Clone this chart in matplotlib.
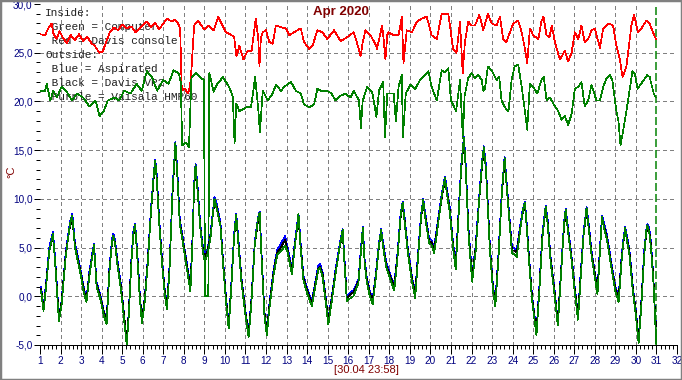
import matplotlib
matplotlib.use("Agg")
import matplotlib.pyplot as plt
from matplotlib.ticker import MultipleLocator, FuncFormatter, FixedLocator
from matplotlib.patches import Rectangle

plt.rcParams['lines.scale_dashes'] = False

# ---------------- data ----------------
day_labels = list(range(1, 33))
grid_days = list(range(2, 31))
grid_temps = [0, 5, 10, 15, 20, 25]
now_day = 31

# Inside: Red = Davis console
red_t = [1.00,1.25,1.40,1.57,1.65,1.80,1.95,2.10,2.30,2.50,
         2.70,2.90,3.10,3.30,3.50,3.70,3.88,4.05,4.20,4.40,
         4.60,4.80,5.00,5.20,5.45,5.65,5.85,6.20,6.40,6.60,
         6.80,7.00,7.20,7.40,7.55,7.72,7.82,7.90,8.05,8.20,
         8.30,8.38,8.50,8.70,8.85,9.00,9.20,9.45,9.67,9.85,
         10.05,10.25,10.45,10.56,10.70,10.90,11.10,11.30,11.50,11.62,
         11.68,11.75,11.84,12.00,12.16,12.32,12.48,12.73,12.97,13.13,
         13.37,13.69,13.85,14.10,14.26,14.50,14.74,14.98,15.31,15.63,
         15.95,16.27,16.50,16.60,16.70,16.84,17.08,17.32,17.40,17.65,
         17.72,17.81,17.90,17.97,18.21,18.45,18.61,18.69,18.85,19.10,
         19.34,19.58,19.82,20.06,20.31,20.55,20.87,20.97,21.10,21.27,
         21.44,21.57,21.68,21.84,22.00,22.17,22.38,22.57,22.80,22.98,
         23.22,23.38,23.54,23.70,23.87,24.03,24.27,24.44,24.60,24.71,
         24.84,25.00,25.25,25.40,25.50,25.65,25.80,25.90,26.06,26.30,
         26.54,26.70,26.87,27.03,27.20,27.35,27.51,27.68,27.84,28.00,
         28.25,28.41,28.65,28.89,29.05,29.22,29.35,29.54,29.78,29.91,
         30.10,30.27,30.51,30.67,30.83,30.97]
red_v = [26.9,26.8,27.5,28.0,27.0,26.4,27.2,26.6,26.0,26.8,
         26.3,26.9,26.2,26.6,26.0,25.6,25.0,25.1,26.0,27.1,
         27.6,27.3,27.9,27.5,27.7,27.1,27.5,28.2,27.6,28.1,
         27.4,28.0,28.5,28.2,28.4,28.0,27.5,21.1,21.3,20.8,
         21.5,23.6,27.8,28.3,27.8,27.4,27.8,27.3,28.7,27.9,
         27.1,26.9,26.6,24.6,25.7,24.3,25.2,25.2,28.5,26.5,
         23.6,26.5,27.1,27.3,26.1,25.9,27.8,27.6,27.5,26.8,
         27.1,27.5,26.1,25.4,25.7,27.3,27.1,26.4,27.3,26.2,
         26.6,27.1,25.5,24.6,26.0,27.3,26.8,25.9,25.4,27.8,
         26.5,24.3,26.8,27.1,26.8,26.8,28.7,23.9,27.3,27.1,
         28.2,28.5,28.7,26.8,26.4,29.0,29.0,27.5,25.4,25.0,
         28.2,22.9,26.1,28.2,27.8,27.8,28.9,27.3,29.0,28.0,
         27.8,28.7,26.4,26.1,27.1,28.0,28.3,27.1,25.4,23.9,
         27.5,26.8,26.4,28.2,28.7,26.8,26.6,27.8,26.1,24.3,
         25.2,24.1,25.0,27.1,26.4,27.8,26.1,26.4,27.3,27.5,
         25.5,27.5,28.0,27.8,25.7,24.3,22.5,23.6,27.8,28.9,
         27.1,27.5,28.3,28.0,27.1,26.4]

# Inside: Green = Computer
grn_t = [1.00,1.25,1.33,1.50,1.65,1.82,2.05,2.30,2.55,2.80,
         3.10,3.40,3.70,3.90,4.10,4.30,4.65,4.85,5.10,5.40,
         5.70,5.95,6.20,6.45,6.70,7.00,7.25,7.50,7.75,7.85,
         7.92,8.10,8.25,8.37,8.60,8.78,8.98,9.03,9.19,9.24,
         9.45,9.60,9.90,10.20,10.38,10.47,10.55,10.70,11.05,11.27,
         11.47,11.63,11.70,11.84,12.08,12.32,12.48,12.73,12.89,13.21,
         13.45,13.69,13.85,14.10,14.34,14.50,14.66,14.90,15.15,15.39,
         15.63,15.87,16.11,16.27,16.52,16.62,16.70,16.92,17.16,17.30,
         17.37,17.50,17.70,17.79,17.90,18.21,18.32,18.45,18.61,18.66,
         18.80,19.02,19.26,19.50,19.74,19.90,20.06,20.31,20.55,20.71,
         20.87,21.00,21.25,21.44,21.58,21.66,21.84,22.00,22.17,22.33,
         22.50,22.57,22.65,22.80,22.98,23.22,23.35,23.46,23.62,23.80,
         23.95,24.10,24.27,24.44,24.60,24.71,24.84,25.00,25.20,25.40,
         25.52,25.65,25.82,26.00,26.22,26.38,26.54,26.70,26.87,27.03,
         27.20,27.35,27.51,27.68,27.84,28.08,28.25,28.41,28.57,28.73,
         28.85,29.05,29.15,29.25,29.38,29.62,29.83,29.95,30.08,30.25,
         30.55,30.67,30.87,30.97]
grn_v = [21.1,21.1,21.8,20.1,21.1,20.4,21.5,21.0,20.1,20.8,
         20.4,19.5,20.1,18.5,19.0,20.1,20.4,20.1,21.1,20.8,
         21.8,21.1,23.1,22.5,21.1,22.2,21.8,23.2,22.9,22.0,
         15.5,15.8,15.3,22.5,22.9,22.5,22.2,0.0,0.0,22.9,
         21.0,21.7,22.5,21.5,20.5,15.7,19.8,19.0,19.4,19.4,
         22.5,19.0,16.8,21.1,20.1,20.8,21.7,21.1,21.5,22.0,
         21.1,20.8,19.7,19.4,19.7,21.3,21.1,21.1,20.9,20.1,
         20.6,20.8,20.4,21.1,20.1,17.3,20.0,21.5,21.0,19.4,
         18.4,21.1,22.0,16.3,20.8,20.8,18.0,21.5,22.7,16.3,
         20.8,21.7,21.3,22.2,22.7,23.1,21.5,20.1,23.2,23.0,
         23.4,20.1,19.0,22.2,16.2,20.5,22.4,22.9,22.4,22.7,
         22.2,21.1,21.3,23.6,23.2,22.2,22.5,20.1,19.4,19.0,
         22.2,23.6,23.8,21.5,19.0,17.1,21.8,21.5,20.8,22.2,
         22.5,20.1,20.4,19.7,19.0,18.1,18.5,17.6,18.7,21.3,
         21.5,22.0,19.5,20.1,21.7,20.1,20.1,21.5,22.4,22.7,
         22.2,19.0,18.0,15.5,17.0,20.1,23.1,22.8,21.3,21.8,
         22.7,22.5,20.8,20.4]

# Outside series (shared time stamps)
out_t = [1.00,1.05,1.17,1.30,1.45,1.63,1.75,1.92,
         2.05,2.25,2.45,2.57,2.70,2.85,
         3.00,3.12,3.26,3.40,3.55,3.63,3.75,3.95,
         4.10,4.24,4.38,4.50,4.57,4.65,4.75,4.95,
         5.10,5.22,5.32,5.45,5.55,5.63,5.72,5.85,5.96,
         6.10,6.25,6.40,6.55,6.61,6.68,6.80,6.95,
         7.08,7.18,7.30,7.45,7.59,7.68,7.80,7.95,
         8.10,8.32,8.42,8.50,8.57,8.68,8.80,8.93,
         9.02,9.15,9.30,9.49,9.60,9.78,9.90,
         10.05,10.18,10.30,10.45,10.55,10.65,10.80,
         11.00,11.15,11.28,11.45,11.60,11.69,11.78,11.92,
         12.04,12.15,12.37,12.55,12.75,12.93,
         13.05,13.26,13.40,13.52,13.58,13.68,13.82,
         14.00,14.23,14.40,14.55,14.63,14.75,14.90,
         15.03,15.20,15.40,15.60,15.73,15.80,15.93,
         16.10,16.25,16.40,16.50,16.62,16.71,16.80,16.90,
         17.05,17.19,17.35,17.50,17.60,17.70,17.85,
         18.05,18.24,18.40,18.55,18.65,18.75,18.90,
         19.10,19.26,19.40,19.55,19.65,19.75,19.94,
         20.05,20.18,20.35,20.55,20.71,20.80,20.94,
         21.10,21.23,21.35,21.50,21.63,21.72,21.85,
         22.03,22.20,22.40,22.52,22.60,22.70,22.90,
         23.05,23.16,23.30,23.48,23.61,23.70,23.85,23.97,
         24.10,24.20,24.35,24.50,24.60,24.69,24.80,24.95,
         25.16,25.30,25.45,25.61,25.70,25.85,
         26.05,26.20,26.35,26.50,26.58,26.70,26.85,
         27.02,27.18,27.30,27.45,27.60,27.70,27.85,
         28.00,28.13,28.25,28.35,28.45,28.60,28.80,
         29.00,29.16,29.30,29.40,29.48,29.58,29.68,29.85,
         30.00,30.13,30.25,30.40,30.50,30.56,30.65,30.73,30.85,30.94,31.00]
out_blue = [0.5,1.0,-1.2,1.5,5.0,6.6,3.5,-2.2,
            -0.5,4.5,7.5,8.5,5.5,4.0,
            2.4,1.0,-0.3,2.5,4.5,5.4,1.5,0.0,
            -1.5,-2.4,3.0,5.8,6.4,5.8,4.0,1.0,
            -2.0,-4.8,-1.5,4.0,6.8,7.4,5.0,0.5,-2.5,
            0.0,4.0,9.0,13.0,14.0,12.5,8.0,3.5,
            0.5,-0.8,3.0,11.0,15.9,13.0,8.0,6.0,
            4.0,1.1,6.0,11.5,13.6,11.0,7.4,5.0,
            4.2,4.8,6.5,10.2,9.5,7.6,4.0,
            0.0,-2.9,1.0,6.5,8.5,6.0,2.0,
            -1.5,-3.8,-0.5,5.5,8.0,8.7,4.5,-1.5,
            -3.6,-1.0,2.8,4.8,5.5,6.2,
            5.0,2.8,5.5,7.5,8.5,5.5,2.1,
            0.8,-0.5,1.5,3.2,3.3,2.5,0.0,
            -2.4,0.0,3.0,5.5,6.9,4.5,0.0,
            0.4,0.6,1.2,1.8,5.0,7.1,3.8,2.0,
            0.5,-0.3,2.5,5.5,6.9,5.5,3.5,
            2.2,1.2,4.5,8.5,9.7,8.0,5.0,
            2.0,0.4,4.5,8.5,10.0,8.5,5.9,
            5.8,5.0,7.5,10.5,12.3,11.0,9.2,
            5.5,3.3,8.0,13.5,16.4,13.5,7.0,
            2.1,5.2,11.0,14.0,15.4,13.5,5.0,
            1.0,-0.5,4.0,11.0,14.3,12.0,8.0,5.0,
            4.9,4.7,7.0,9.0,9.7,7.4,4.0,0.0,
            -3.6,1.0,6.5,9.3,8.0,4.0,
            0.5,-2.6,2.5,7.5,9.0,7.0,4.5,
            1.0,-1.9,2.0,6.5,9.2,7.5,4.5,
            2.5,0.7,5.0,8.3,7.5,6.2,3.5,
            1.0,0.0,4.0,6.0,7.1,6.0,4.9,1.0,
            -1.5,-4.3,-1.0,4.5,6.8,7.4,7.0,5.6,2.0,-2.2,-3.0]
out_black = [0.4,0.8,-1.4,1.2,4.6,6.2,3.2,-2.3,
             -0.6,4.2,7.1,8.0,5.2,3.7,
             2.2,0.8,-0.5,2.2,4.2,5.0,1.3,-0.2,
             -1.6,-2.5,2.7,5.4,6.0,5.5,3.7,0.8,
             -2.1,-4.6,-1.7,3.7,6.4,7.0,4.7,0.3,-2.6,
             -0.2,3.7,8.6,12.6,13.6,12.1,7.7,3.2,
             0.3,-1.0,2.7,10.6,15.4,12.6,7.7,5.7,
             3.8,0.9,5.7,11.1,13.2,10.7,7.1,4.7,
             4.0,4.6,6.2,9.8,9.2,7.3,3.8,
             -0.2,-3.0,0.7,6.2,8.1,5.7,1.8,
             -1.7,-3.9,-0.7,5.2,7.6,8.3,4.2,-1.7,
             -3.7,-1.2,2.5,4.5,5.1,5.8,
             4.7,2.6,5.2,7.1,8.1,5.2,1.9,
             0.6,-0.7,1.3,2.9,3.0,2.3,-0.2,
             -2.5,-0.2,2.7,5.2,6.5,4.2,-0.2,
             0.2,0.4,1.0,1.6,4.7,6.7,3.5,1.8,
             0.3,-0.5,2.2,5.2,6.5,5.2,3.2,
             2.0,1.0,4.2,8.1,9.3,7.7,4.7,
             1.8,0.2,4.2,8.1,9.6,8.2,5.6,
             5.6,4.8,7.2,10.1,11.9,10.7,8.9,
             5.2,3.1,7.7,13.1,16.0,13.1,6.7,
             1.9,4.9,10.6,13.6,15.0,13.1,4.7,
             0.8,-0.7,3.7,10.6,13.9,11.6,7.7,4.7,
             4.7,4.5,6.7,8.7,9.3,7.1,3.8,-0.2,
             -3.7,0.7,6.2,8.9,7.7,3.8,
             0.3,-2.7,2.2,7.1,8.6,6.7,4.2,
             0.8,-2.0,1.7,6.2,8.8,7.2,4.2,
             2.3,0.5,4.7,7.9,7.2,5.9,3.2,
             0.8,-0.2,3.7,5.7,6.7,5.7,4.6,0.8,
             -1.7,-4.4,-1.2,4.2,6.4,7.0,6.7,5.3,1.8,-2.3,-3.1]
out_green = [0.3,0.6,-1.5,1.0,4.6,6.4,3.0,-2.6,
             -0.9,4.0,7.3,8.3,5.0,3.5,
             2.0,0.5,-0.6,2.0,4.2,5.3,1.0,-0.4,
             -1.9,-2.9,2.5,5.5,6.2,5.4,3.5,0.5,
             -2.5,-5.0,-2.0,3.5,6.6,7.3,4.5,0.0,-2.8,
             -0.5,3.5,8.7,12.8,13.9,12.0,7.5,3.0,
             0.0,-1.3,2.5,10.7,15.8,12.5,7.5,5.5,
             3.5,0.5,5.5,11.3,13.5,10.5,7.0,4.5,
             3.6,4.3,6.0,10.0,9.0,7.2,3.5,
             -0.5,-3.3,0.5,6.2,8.4,5.5,1.5,
             -2.0,-4.2,-1.0,5.2,7.9,8.6,4.0,-2.0,
             -4.0,-1.5,2.2,4.3,4.7,5.2,
             4.5,2.3,5.0,7.3,8.5,5.0,1.6,
             0.3,-1.0,1.0,2.8,2.9,2.0,-0.5,
             -2.9,-0.5,2.5,5.3,6.8,4.0,-0.5,
             -0.2,0.0,0.8,1.4,4.6,7.0,3.3,1.5,
             0.0,-0.8,2.0,5.3,6.8,5.0,3.0,
             1.7,0.6,4.0,8.3,9.6,7.5,4.5,
             1.5,-0.2,4.0,8.3,9.9,8.0,5.4,
             5.3,4.4,7.0,10.3,12.2,10.5,8.7,
             5.0,2.8,7.5,13.3,16.3,13.0,6.5,
             1.5,4.6,10.7,13.8,15.3,13.0,4.5,
             0.5,-1.0,3.5,10.7,14.2,11.5,7.5,4.4,
             4.3,4.0,6.5,8.8,9.6,7.0,3.5,-0.5,
             -4.0,0.5,6.0,9.2,7.5,3.5,
             0.0,-3.0,2.0,7.3,8.9,6.5,4.0,
             0.5,-2.4,1.5,6.2,9.1,7.0,4.0,
             2.0,0.2,4.5,8.2,7.0,5.7,3.0,
             0.5,-0.6,3.5,5.8,7.0,5.5,4.3,0.5,
             -2.0,-4.8,-1.5,4.0,6.7,7.3,6.5,5.0,1.5,-2.6,-5.0]

legend_lines = ["Inside:", " Green = Computer", " Red = Davis console",
                "Outside:", " Blue = Aspirated", " Black = Davis VP2",
                " Purple = Vaisala HMP60"]
title_text = "Apr 2020"
stamp_text = "[30.04 23:58]"
unit_text = "°C"

# ---------------- layout ----------------
W, H = 682, 380
fig = plt.figure(figsize=(W / 100, H / 100), dpi=100)
fig.patch.set_facecolor('white')
ax = fig.add_axes([40 / W, 35 / H, 637 / W, 341 / H])
ax.set_xlim(1, 32)
ax.set_ylim(-5, 30)

NAVY = '#000080'
MAROON = '#800000'
GRID = '#808080'
px = 0.72  # one pixel in points

for s in ['left', 'top', 'right']:
    ax.spines[s].set_visible(False)
ax.spines['bottom'].set_linewidth(px)
ax.spines['bottom'].set_color('black')

# grid
for d in grid_days:
    ax.axvline(d, color=GRID, lw=px, ls=(0, (4 * px, 3 * px)), zorder=1, antialiased=False)
for t in grid_temps:
    ax.axhline(t, color=GRID, lw=px, ls=(0, (4 * px, 3 * px)), zorder=1, antialiased=False)
ax.axvline(now_day, color='#008000', lw=1.5 * px, ls=(0, (8 * px, 3 * px)), zorder=1)

# ticks
ax.xaxis.set_major_locator(FixedLocator(day_labels))
ax.xaxis.set_minor_locator(MultipleLocator(0.2))
ax.yaxis.set_major_locator(MultipleLocator(5))
ax.yaxis.set_minor_locator(MultipleLocator(1))
ax.yaxis.set_major_formatter(FuncFormatter(lambda v, p: f"{v:.1f}".replace('.', ',')))
ax.tick_params(axis='x', which='major', direction='out', length=9 * px, width=px,
               colors='black', labelcolor=NAVY, labelsize=7.2, pad=1.5)
ax.tick_params(axis='x', which='minor', direction='out', length=4 * px, width=px, colors='black')
ax.tick_params(axis='y', which='major', direction='out', length=6 * px, width=px,
               colors='black', labelcolor=NAVY, labelsize=7.2, pad=1)
ax.tick_params(axis='y', which='minor', direction='out', length=4 * px, width=px, colors='black')
for lab in ax.get_xticklabels() + ax.get_yticklabels():
    lab.set_fontfamily('Liberation Sans')

# legend text (under lines)
ys = [13.3, 26.9, 40.7, 54.5, 68.5, 82.5, 96.5]
for s, y in zip(legend_lines, ys):
    ax.text(45 / W, 1 - y / H, s, transform=fig.transFigure, ha='left', va='center',
            family='Liberation Mono', fontsize=8, color='#202020', zorder=1.5)

# data
kw = dict(lw=0.5, antialiased=False, zorder=3)
ax.plot(red_t, red_v, color='#FF0000', **kw)
ax.plot(grn_t, grn_v, color='#008000', **kw)
ax.plot(out_t, out_blue, color='#0000FF', **kw)
ax.plot(out_t, out_black, color='#000000', **kw)
ax.plot(out_t, out_green, color='#008000', **kw)

# texts
fig.text(341 / W, 1 - 12.5 / H, title_text, ha='center', va='center', color=MAROON,
         family='Liberation Sans', fontweight='bold', fontsize=9.5)
fig.text(366 / W, 1 - 370 / H, stamp_text, ha='center', va='center', color=MAROON,
         family='Liberation Sans', fontsize=8)
fig.text(11 / W, 1 - 172 / H, unit_text, ha='center', va='center', color=MAROON,
         family='Liberation Sans', fontsize=8, rotation=90)

# border
fig.patches.append(Rectangle((0, 0), 1, 1, transform=fig.transFigure, fill=False,
                             edgecolor='#808080', lw=2.5, zorder=10))

fig.savefig('out.png', dpi=100, facecolor='white')
